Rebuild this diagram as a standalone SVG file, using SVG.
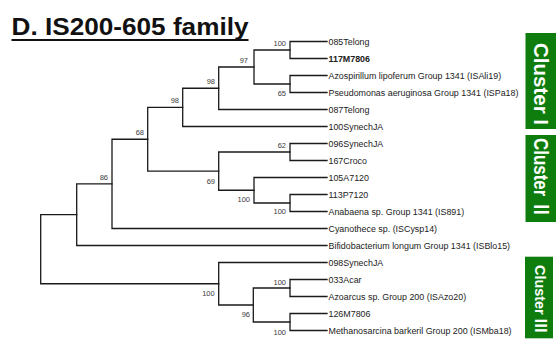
<svg xmlns="http://www.w3.org/2000/svg" width="556" height="348" viewBox="0 0 556 348">
<style>
  .br{fill:none;stroke:#1a1a1a;stroke-width:1.3;stroke-linecap:square}
  .lf{font-family:"Liberation Sans",Arial,sans-serif;font-size:8.9px;fill:#222}
  .bs{font-family:"Liberation Sans",Arial,sans-serif;font-size:7.5px;fill:#3a3a3a;text-anchor:end}
  .cl{fill:#0e7d0e}
  .ct{font-family:"Liberation Sans","Noto Sans CJK JP",Arial,sans-serif;font-weight:bold;fill:#fff;text-anchor:middle}
</style>
<rect width="556" height="348" fill="#fff"/>
<g id="title">
  <text x="11.5" y="34.5" font-family="'Liberation Sans',Arial,sans-serif" font-weight="bold" font-size="24.5" fill="#111" textLength="237" lengthAdjust="spacingAndGlyphs">D. IS200-605 family</text>
  <rect x="11.5" y="39" width="237" height="2" fill="#111"/>
</g>
<g id="connectors">
  <path class="br" d="M327 41.5 H290 V58.5 H327"/>
  <path class="br" d="M327 75.5 H290 V92.5 H327"/>
  <path class="br" d="M290 50 H254 V84 H290"/>
  <path class="br" d="M254 67 H218.7 V109.5 H327"/>
  <path class="br" d="M218.7 88.25 H182.7 V126.5 H327"/>
  <path class="br" d="M327 143.5 H290 V160.5 H327"/>
  <path class="br" d="M327 194.5 H290 V211.5 H327"/>
  <path class="br" d="M327 177.5 H254 V203 H290"/>
  <path class="br" d="M290 152 H218.7 V190.25 H254"/>
  <path class="br" d="M182.7 107.4 H147.7 V171.1 H218.7"/>
  <path class="br" d="M147.7 139.25 H112 V228.5 H327"/>
  <path class="br" d="M112 183.9 H76.7 V245.5 H327"/>
  <path class="br" d="M327 279.5 H290 V296.5 H327"/>
  <path class="br" d="M327 313.5 H290 V330.5 H327"/>
  <path class="br" d="M290 288 H253.3 V322 H290"/>
  <path class="br" d="M327 262.5 H218.7 V305 H253.3"/>
  <path class="br" d="M76.7 214.7 H40.7 V283.75 H218.7"/>
</g>
<g id="internal-nodes">
  <g id="nA"><text class="bs" x="286" y="45.5">100</text></g>
  <g id="nB"><text class="bs" x="286" y="95.5">65</text></g>
  <g id="nC"><text class="bs" x="248" y="62.5">97</text></g>
  <g id="nD"><text class="bs" x="215" y="83.7">98</text></g>
  <g id="nE"><text class="bs" x="179" y="103">98</text></g>
  <g id="nJ"><text class="bs" x="144" y="135">68</text></g>
  <g id="nK"><text class="bs" x="108" y="179.5">86</text></g>
  <g id="nF"><text class="bs" x="286" y="147.5">62</text></g>
  <g id="nI"><text class="bs" x="215" y="184.4">69</text></g>
  <g id="nH"><text class="bs" x="250" y="201.8">100</text></g>
  <g id="nG"><text class="bs" x="286" y="214.3">100</text></g>
  <g id="nP"><text class="bs" x="214.7" y="295.5">100</text></g>
  <g id="nO"><text class="bs" x="250" y="317">96</text></g>
  <g id="nM"><text class="bs" x="286" y="284.5">100</text></g>
  <g id="nN"><text class="bs" x="286" y="334.5">100</text></g>
</g>
<g id="leaves">
  <g id="leaf0"><text class="lf" x="328.5" y="44.7">085Telong</text></g>
  <g id="leaf1"><text class="lf" x="328.5" y="61.7" font-weight="bold">117M7806</text></g>
  <g id="leaf2"><text class="lf" x="328.5" y="78.7">Azospirillum lipoferum Group 1341 (ISAli19)</text></g>
  <g id="leaf3"><text class="lf" x="328.5" y="95.7">Pseudomonas aeruginosa Group 1341 (ISPa18)</text></g>
  <g id="leaf4"><text class="lf" x="328.5" y="112.7">087Telong</text></g>
  <g id="leaf5"><text class="lf" x="328.5" y="129.7">100SynechJA</text></g>
  <g id="leaf6"><text class="lf" x="328.5" y="146.7">096SynechJA</text></g>
  <g id="leaf7"><text class="lf" x="328.5" y="163.7">167Croco</text></g>
  <g id="leaf8"><text class="lf" x="328.5" y="180.7">105A7120</text></g>
  <g id="leaf9"><text class="lf" x="328.5" y="197.7">113P7120</text></g>
  <g id="leaf10"><text class="lf" x="328.5" y="214.7">Anabaena sp. Group 1341 (IS891)</text></g>
  <g id="leaf11"><text class="lf" x="328.5" y="231.7">Cyanothece sp. (ISCysp14)</text></g>
  <g id="leaf12"><text class="lf" x="328.5" y="248.7">Bifidobacterium longum Group 1341 (ISBlo15)</text></g>
  <g id="leaf13"><text class="lf" x="328.5" y="265.7">098SynechJA</text></g>
  <g id="leaf14"><text class="lf" x="328.5" y="282.7">033Acar</text></g>
  <g id="leaf15"><text class="lf" x="328.5" y="299.7">Azoarcus sp. Group 200 (ISAzo20)</text></g>
  <g id="leaf16"><text class="lf" x="328.5" y="316.7">126M7806</text></g>
  <g id="leaf17"><text class="lf" x="328.5" y="333.7">Methanosarcina barkeril Group 200 (ISMba18)</text></g>
</g>
<g id="cluster1">
  <rect class="cl" x="525.5" y="33" width="30.5" height="96"/>
  <text class="ct" font-size="20" transform="translate(533.5 84) rotate(90)" textLength="82" lengthAdjust="spacingAndGlyphs">Cluster I</text>
</g>
<g id="cluster2">
  <rect class="cl" x="525.5" y="135" width="30.5" height="87"/>
  <text class="ct" font-size="20" transform="translate(533.5 178) rotate(90)" textLength="80" lengthAdjust="spacingAndGlyphs">Cluster Ⅱ</text>
</g>
<g id="cluster3">
  <rect class="cl" x="525" y="256.7" width="28" height="81.6"/>
  <text class="ct" font-size="15" transform="translate(535 299) rotate(90)" textLength="68" lengthAdjust="spacingAndGlyphs">Cluster Ⅲ</text>
</g>
</svg>
